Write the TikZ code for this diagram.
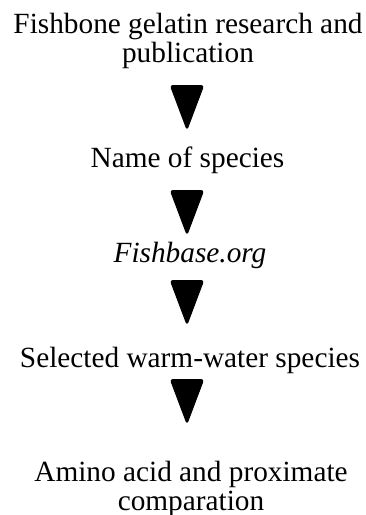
\documentclass[tikz,border=0pt]{standalone}
\usepackage{fontspec}
\setmainfont{Liberation Serif}
\begin{document}
\begin{tikzpicture}[x=1pt,y=1pt,
  lbl/.style={font=\fontsize{29.3}{29}\selectfont, inner sep=0pt, align=center, anchor=base, text=black},
  tri/.style={fill=black, draw=black, line width=1.2pt, line join=round, rounded corners=2.5pt}]
\useasboundingbox (0,0) rectangle (365,-515);
\node[lbl] (a) at (188,-62) {Fishbone gelatin research and\\publication};
\node[lbl] (b) at (187.5,-167) {Name of species};
\node[lbl] (c) at (190,-262) {\itshape Fishbase.org};
\node[lbl] (d) at (190,-367) {Selected warm-water species};
\node[lbl] (e) at (191,-510) {Amino acid and proximate\\comparation};
\coordinate (t1) at (187,-85);
\coordinate (t2) at (187,-190);
\coordinate (t3) at (187,-280);
\coordinate (t4) at (187,-379);
\foreach \t in {t1,t2,t3,t4}
  \filldraw[tri] (\t) ++(-16.5,-0.6) -- ++(33,0) -- ++(-16.5,-43.8) -- cycle;
\end{tikzpicture}
\end{document}
